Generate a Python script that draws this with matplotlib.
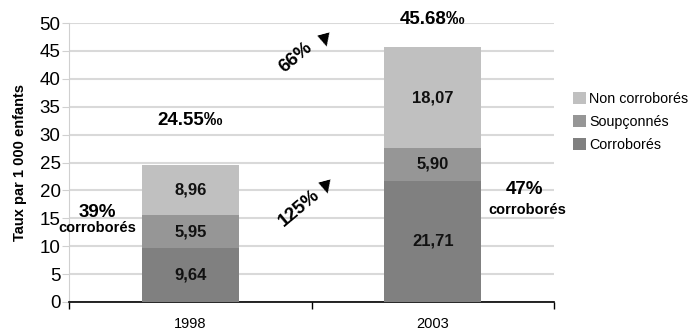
import matplotlib
matplotlib.use("Agg")
import matplotlib.pyplot as plt
import numpy as np

plt.rcParams['font.family'] = ['Liberation Sans', 'DejaVu Sans']

years = ["1998", "2003"]
corrobores = [9.64, 21.71]
soupconnes = [5.95, 5.90]
non_corrobores = [8.96, 18.07]
totals = ["24.55‰", "45.68‰"]
series_names = ["Corroborés", "Soupçonnés", "Non corroborés"]
colors = ["#808080", "#969696", "#c0c0c0"]

fig = plt.figure(figsize=(6.96, 3.36), dpi=100)
ax = fig.add_axes([69 / 696, 1 - 302 / 336, (554 - 69) / 696, (302 - 23) / 336])

x = np.arange(len(years))
series = [corrobores, soupconnes, non_corrobores]
bottom = np.zeros(len(years))
handles = []
for vals, name, col in zip(series, series_names, colors):
    h = ax.bar(x, vals, width=0.4, bottom=bottom, color=col, label=name, zorder=3)
    handles.append(h)
    for xi, b, v in zip(x, bottom, vals):
        ax.text(xi, b + v / 2, f"{v:.2f}".replace(".", ","), ha="center", va="center",
                fontsize=12, fontweight="bold", color="#111111", zorder=4)
    bottom = bottom + np.array(vals)

ax.set_xlim(-0.5, 1.5)
ax.set_ylim(0, 50)
ax.set_yticks(np.arange(0, 51, 5))
ax.set_xticks(x)
ax.set_xticklabels(years, fontsize=10.5)
ax.set_xticks([-0.5, 0.5, 1.5], minor=True)
ax.tick_params(axis="x", which="major", length=0, pad=11)
ax.tick_params(axis="x", which="minor", length=5, width=1, color="black", direction="out")
ax.tick_params(axis="y", labelsize=13.5, length=5, color="#d0d0d0", pad=1)
ax.grid(axis="y", color="#d9d9d9", linewidth=1.5, zorder=0)
for s in ["top", "right"]:
    ax.spines[s].set_visible(False)
ax.spines["left"].set_color("#d0d0d0")
ax.spines["bottom"].set_color("black")
ax.spines["bottom"].set_linewidth(1.2)
ax.set_ylabel("Taux par 1 000 enfants", fontsize=10.5, fontweight="bold", labelpad=9)

# totals above bars
ax.text(0, 32.6, totals[0], ha="center", va="center", fontsize=13.5, fontweight="bold")
ax.text(1, 50.7, totals[1], ha="center", va="center", fontsize=13.5, fontweight="bold",
        clip_on=False)

# share of corroborated cases
ax.text(-0.385, 16.0, "39%", ha="center", va="center", fontsize=13.5, fontweight="bold")
ax.text(-0.385, 13.3, "corroborés", ha="center", va="center", fontsize=10.5, fontweight="bold")
ax.text(1.38, 20.1, "47%", ha="center", va="center", fontsize=13.5, fontweight="bold")
ax.text(1.39, 16.4, "corroborés", ha="center", va="center", fontsize=10.5, fontweight="bold")

# growth annotations
ax.text(0.436, 43.9, "66%", ha="center", va="center", fontsize=13.5, fontweight="bold",
        rotation=40)
ax.text(0.555, 46.8, "▼", ha="center", va="center", fontsize=12, rotation=15,
        family="DejaVu Sans")
ax.text(0.45, 16.8, "125%", ha="center", va="center", fontsize=13.5, fontweight="bold",
        rotation=40)
ax.text(0.56, 20.6, "▼", ha="center", va="center", fontsize=12, rotation=15,
        family="DejaVu Sans")

leg = ax.legend(handles[::-1], series_names[::-1], loc="center left",
                bbox_to_anchor=(1.04, 0.645), frameon=False, fontsize=10.3,
                handlelength=0.9, handleheight=0.9, handletextpad=0.2, labelspacing=0.62,
                borderaxespad=0, borderpad=0)

fig.savefig("out.png", dpi=100)
